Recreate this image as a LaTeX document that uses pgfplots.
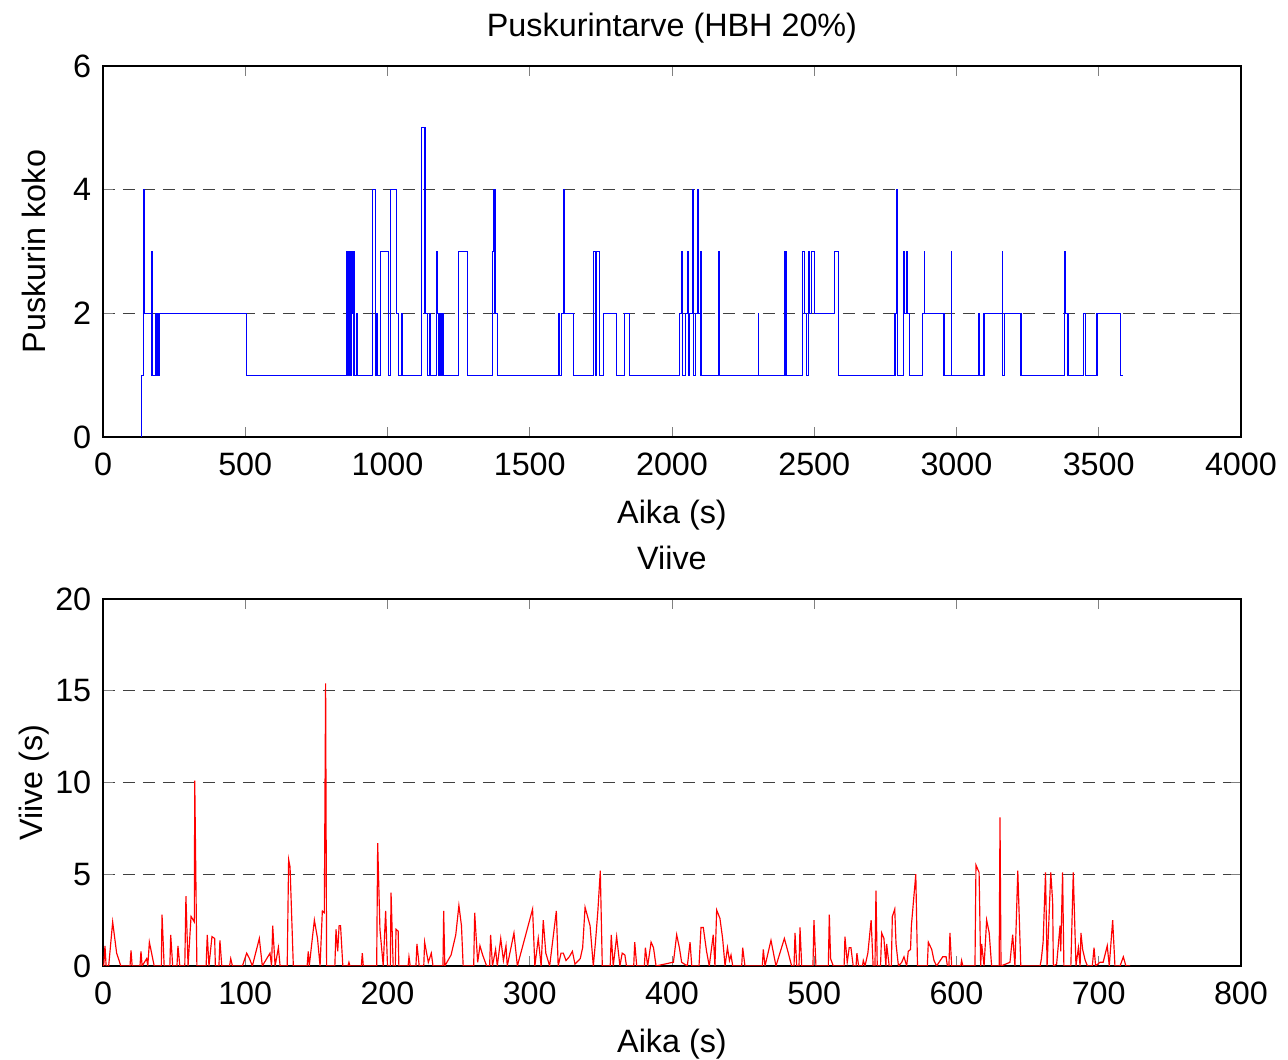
\documentclass[border=0pt]{standalone}
\usepackage{pgfplots}
\pgfplotsset{compat=1.18}
\usepackage{fontspec}
\setmainfont{Liberation Sans}

\pgfplotsset{
  mstyle/.style={
    scale only axis, width=341.4pt,
    axis line style={line width=0.5pt},
    tick align=inside, major tick length=3pt,
    ymajorgrids, grid style={dash pattern=on 3.6pt off 2.4pt, line width=0.4pt, black!75},
    tick label style={font=\fontsize{9.7}{11}\selectfont},
    xticklabel style={yshift=-1.2pt},
    label style={font=\fontsize{9.7}{11}\selectfont},
    title style={font=\fontsize{9.7}{11}\selectfont, text height=1.6ex, text depth=0.45ex, yshift=-3pt},
    /pgf/number format/assume math mode=true,
    /pgf/number format/1000 sep={},
    xlabel style={yshift=-0.4pt},
    ylabel style={at={(axis description cs:-0.0606,0.5)}, anchor=center},
  }
}

\begin{document}
\begin{tikzpicture}
\useasboundingbox (-30.9pt,-186.9pt) rectangle (355.5pt,131.1pt);
\begin{axis}[mstyle, name=top, at={(0,0)}, anchor=south west,
  height=111.3pt, xmin=0, xmax=4000, ymin=0, ymax=6,
  xtick={0,500,...,4000}, ytick={0,2,4,6},
  title={Puskurintarve (HBH 20\%)}, xlabel={Aika (s)}, ylabel={Puskurin koko}]
\addplot[const plot, blue, line width=0.35pt] coordinates {
(133,0)(135,1)(142,4)(147,2)(171,3)(172,1)(184,2)(190,1)(193,2)(197,1)(200,2)(505,1)
(855,3)(857,1)(861,3)(863,1)(867,3)(869,1)(874,3)(876,2)(880,1)(882,3)(884,1)(890,2)(893,1)
(947,4)(957,1)(960,2)(963,1)(976,3)(1003,1)(1012,4)(1032,2)(1040,1)(1051,2)(1054,1)
(1120,5)(1132,2)(1140,1)(1148,2)(1152,1)(1172,3)(1175,2)(1180,1)(1184,2)(1187,1)(1190,2)(1195,1)
(1251,3)(1280,1)(1369,3)(1374,4)(1378,2)(1388,1)(1600,2)(1605,1)(1612,2)(1619,4)(1622,2)(1655,1)
(1725,3)(1730,1)(1734,3)(1744,1)(1760,2)(1805,1)(1832,2)(1852,1)
(2026,2)(2035,3)(2038,1)(2048,2)(2054,3)(2057,1)(2062,2)(2071,4)(2076,1)(2084,2)(2089,4)(2094,2)(2099,3)(2102,1)
(2164,3)(2166,1)(2303,2)(2305,1)(2395,3)(2401,1)(2459,3)(2465,2)(2472,1)(2479,3)(2483,2)(2490,3)(2502,2)(2572,3)(2584,1)
(2784,2)(2789,4)(2792,1)(2815,3)(2818,2)(2826,3)(2827,2)(2834,1)(2881,2)(2888,3)(2889,2)(2956,1)(2982,3)(2983,1)
(3077,2)(3082,1)(3097,2)(3161,3)(3162,1)(3170,2)(3227,1)(3381,3)(3383,2)(3392,1)(3447,2)(3454,1)(3494,2)(3576,1)(3586,1)
};
\end{axis}
\begin{axis}[mstyle, at={(0,-158.7pt)}, anchor=south west,
  height=110.1pt, xmin=0, xmax=800, ymin=0, ymax=20,
  xtick={0,100,...,800}, ytick={0,5,...,20},
  title={Viive}, xlabel={Aika (s)}, ylabel={Viive (s)}]
\addplot[red, line width=0.35pt] coordinates {
(0,0)(0.5,0)(1.4,1.1)(2.2,0)(4,0)(6.8,2.4)(9.6,0.7)(11.5,0.25)(12.5,0)(19,0)(19.7,0.85)(20.5,0)(26,0)(26.7,0.8)(27.5,0)
(30.7,0.4)(31.5,0)(32.6,1.3)(36,0)(41,0)(41.5,2.8)(43,0)(47,0)(47.6,1.7)(49,0)(52,0)(52.7,1.1)(54,0)
(57.5,0)(58.3,3.8)(59.8,0)(61.9,2.7)(64.2,2.4)(64.5,10.1)(66,0)(72.5,0)(73.3,1.7)(74.5,0)(76.6,1.6)(78.5,1.5)(79,0)
(81.5,0)(82.2,1.4)(83.5,0)(89,0)(89.8,0.4)(91,0)(98,0)(101,0.7)(103,0.4)(105,0)(109.9,1.5)(112,0)(117.4,0.7)(118.5,0)
(119.3,2.2)(121,0)(123.3,1.0)(124.5,0)(129.5,0)(130.5,5.8)(131.5,5.4)(133.8,0)(143.5,0)(144.3,0.8)(145,0)
(148.6,2.5)(150.8,1.5)(152.6,0)(154.2,3.0)(155.6,2.9)(156.5,15.4)(157.2,0)(163,0)(163.8,2.0)(165,0.8)(166,2.2)(167,2.2)(168.6,0)
(172.2,0)(172.9,0.2)(173.6,0)(181.6,0)(182.3,0.7)(183,0)(192.4,0)(193.1,6.7)(194.7,2.0)(197,0)(198.7,3.0)(200,0)
(202,0)(202.5,4.0)(204,0)(205.5,0)(206,2.0)(207.5,1.9)(208,0)(214.5,0)(215.1,0.5)(216,0)(220,0)(220.7,1.2)(222.3,0)
(225.5,0)(226.1,1.3)(228.7,0.2)(230.8,0.7)(232,0)(239,0)(239.5,3.0)(240.3,0)(244.7,0.6)(248,1.7)(250.2,3.3)(252,2.2)(253.2,0)
(260.6,0)(261.3,2.9)(263.4,0.2)(265,1.1)(266.9,0.6)(269.7,0)(271.8,0)(272.5,1.7)(273.8,0)(276,0.9)(277.2,0)
(279.6,1.5)(281.5,0.3)(283.3,1.1)(284.2,0)(288.9,1.8)(291.3,0)(302,3.1)(303.6,0)(306,1.5)(308,0)(309.5,2.5)(311.3,0.7)(314,0)
(318.7,3.0)(320,0)(322,0.7)(323.6,0.7)(325.5,0.3)(327.8,0.5)(330,0.8)(331.8,0.1)(335.5,0.4)(337.2,1.0)(338.9,3.2)(342.4,2.2)
(344.7,0)(346.2,1.3)(347.9,3.0)(349.6,5.2)(351,0)(356.6,0)(357.3,1.7)(358.7,0)(361.1,1.6)(363.4,0)(365,0.7)(366.9,0.6)(368,0)
(373.1,0)(373.8,1.3)(375.2,0)(380.6,0)(381.3,1.0)(382.9,0)(385.3,1.3)(387,1.0)(388.8,0)(400.5,0.2)(401,0.2)(403.3,1.7)
(405.2,1.0)(406.8,0.2)(410.8,0)(412.7,1.3)(413.9,0)(419,0)(420.4,2.1)(422,2.1)(424.3,0.8)(426.2,0)(429,1.7)(430.2,0)
(431.4,3.05)(433.7,2.6)(435.6,1.5)(437.3,0)(439,1.0)(440.4,0.3)(441.5,0.6)(442.7,0)(449,0)(449.7,1.0)(451.3,0)
(463.5,0)(464.2,0.9)(465.4,0)(469.6,1.4)(473.1,0)(479,1.5)(481.8,0.7)(484.1,0)(485.8,0)(486.5,1.8)(487.7,0)(489.3,0)(490,2.1)(491.2,0)
(499.1,0)(499.8,2.5)(501.2,0)(509.9,0)(510.6,2.8)(511.5,0.4)(513.4,0)(521,0)(521.6,1.6)(523.2,0.2)(524.6,1.0)(525.8,1.0)(527.4,0)
(529.4,0)(530,0.7)(531.2,0)(533.9,0)(534.5,0.3)(535.7,0)(537.7,0.7)(540,2.5)(541.4,0)(542.7,0)(543.4,4.1)(544.3,0)
(546.6,0)(547.4,1.8)(549,1.5)(550.4,0)(550.9,1.2)(552.7,0)(554.2,0)(554.9,2.7)(556.6,3.1)(557.5,1.2)(559.2,0)
(561.5,0.2)(563.1,0.5)(565,0)(566.1,0.8)(567.7,0.9)(568.3,2.2)(571.4,5.0)(572.6,0)(579.5,0)(580.2,1.3)(582.6,0.9)(584.2,0.3)(586,0)
(590.3,0.5)(592.7,0.5)(593.6,0)(594.7,0)(595.4,1.8)(596.6,0)(603,0)(603.6,0.3)(604.5,0)(613,0)(613.7,5.5)(615.9,5.1)(617,0)
(617.7,1.2)(619.4,0)(621.2,2.5)(623,1.8)(624.7,0)(630,0)(630.6,8.1)(631.3,0)(637.6,0.2)(639.5,1.7)(641.1,0)(643.1,5.2)(645.2,0)
(658.8,0)(659.7,0.4)(660.9,1.3)(662.6,5.1)(663.7,0)(666.3,5.1)(667.6,3.5)(668.1,0)(670.4,0.1)(672.8,2.2)(673.3,0.8)(674.6,5.1)(675.5,0)
(680.4,0)(682.1,5.1)(684,0)(685.7,1.0)(686.9,0)(687.5,1.8)(688.7,0.9)(690.5,0.3)(692.1,0)(695.5,0)(696.7,1.0)(697.8,0)
(700.8,0.2)(703.1,0.2)(706,1.1)(707.4,0)(709.8,2.5)(711.4,0)(715,0)(717.3,0.5)(719.1,0)(722.1,0)
};
\end{axis}
\end{tikzpicture}
\end{document}
